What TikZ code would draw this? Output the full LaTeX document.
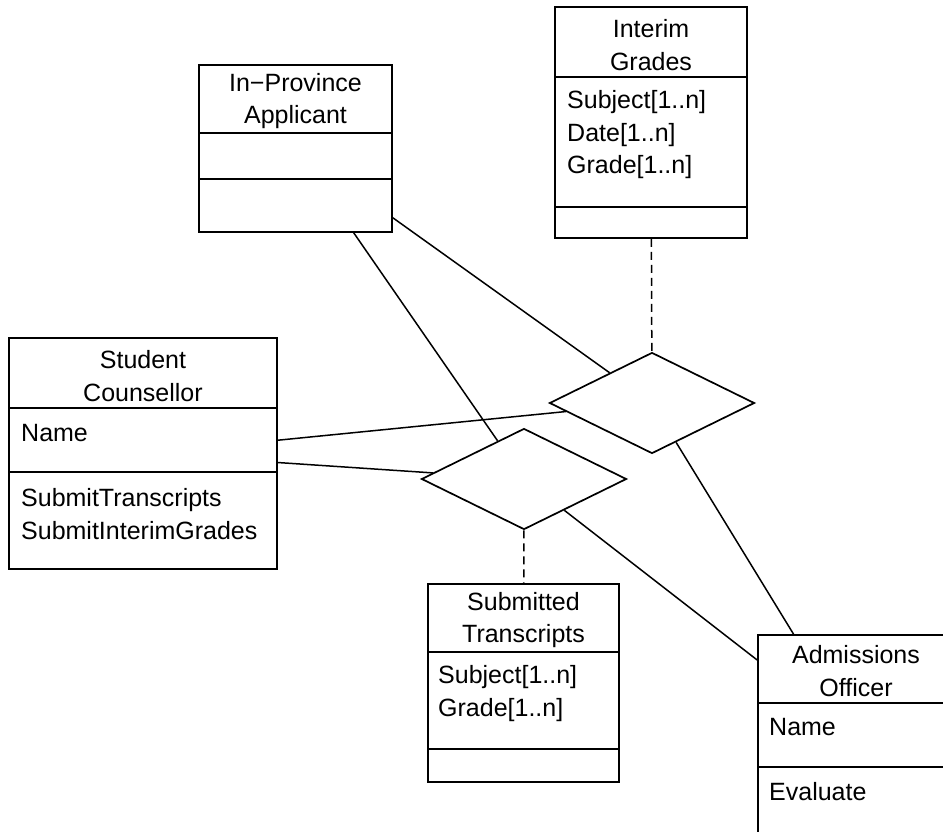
\documentclass[tikz,border=0pt]{standalone}
\usepackage{fontspec}
\setmainfont{Liberation Sans}
\usetikzlibrary{shapes.geometric}

\begin{document}
\begin{tikzpicture}[
    x=1pt, y=-1pt,
    font=\fontsize{25}{32.5}\selectfont,
    cls/.style={draw, rectangle, line width=1.7pt, inner sep=0pt},
    rel/.style={draw, diamond, line width=1.7pt, inner sep=0pt, minimum width=205pt, minimum height=101pt},
    title/.style={align=center, inner sep=0pt},
    attrs/.style={align=left, anchor=west, inner sep=0pt},
    link/.style={line width=1.5pt},
    dep/.style={line width=1.5pt, dash pattern=on 8pt off 5pt}
  ]
    \clip (0,0) rectangle (943,831);

    % classes
    \node[cls, minimum width=193pt, minimum height=167pt] (ipa) at (295.5,148.5) {};
    \node[cls, minimum width=192pt, minimum height=231pt] (ig) at (651,122.5) {};
    \node[cls, minimum width=268pt, minimum height=231pt] (sc) at (143,453.5) {};
    \node[cls, minimum width=191pt, minimum height=198pt] (st) at (523.5,683) {};
    \node[cls, minimum width=196pt, minimum height=203pt] (ao) at (856,736.5) {};

    % associations
    \node[rel] (d1) at (652,403) {};
    \node[rel] (d2) at (524,479) {};

    % compartments
    \draw[link] (ipa.west |- 0,133) -- (ipa.east |- 0,133);
    \draw[link] (ipa.west |- 0,179) -- (ipa.east |- 0,179);
    \draw[link] (ig.west |- 0,77) -- (ig.east |- 0,77);
    \draw[link] (ig.west |- 0,207) -- (ig.east |- 0,207);
    \draw[link] (sc.west |- 0,408) -- (sc.east |- 0,408);
    \draw[link] (sc.west |- 0,472) -- (sc.east |- 0,472);
    \draw[link] (st.west |- 0,652) -- (st.east |- 0,652);
    \draw[link] (st.west |- 0,749) -- (st.east |- 0,749);
    \draw[link] (ao.west |- 0,703) -- (ao.east |- 0,703);
    \draw[link] (ao.west |- 0,767) -- (ao.east |- 0,767);

    % names
    \node[title] (ipaname) at (295.5,101) {In\textminus Province\\Applicant};
    \node[title] (igname) at (651,45) {Interim\\Grades};
    \node[title] (scname) at (143,376) {Student\\Counsellor};
    \node[title] (stname) at (523.5,620) {Submitted\\Transcripts};
    \node[title] (aoname) at (856,671) {Admissions\\Officer};

    % attributes and operations
    \node[attrs] (igattr) at (567,135) {Subject[1..n]\\Date[1..n]\\Grade[1..n]};
    \node[attrs] (scattr) at (21,433) {Name};
    \node[attrs] (scops) at (21,514) {SubmitTranscripts\\SubmitInterimGrades};
    \node[attrs] (stattr) at (438,693.5) {Subject[1..n]\\Grade[1..n]};
    \node[attrs] (aoattr) at (769,727) {Name};
    \node[attrs] (aoops) at (769,792) {Evaluate};

    \draw[link] (ipa) -- (d1);
    \draw[link] (ipa) -- (d2);
    \draw[link] (sc) -- (d1);
    \draw[link] (sc) -- (d2);
    \draw[link] (d1) -- (ao);
    \draw[link] (d2) -- (ao);
    \draw[dep] (ig) -- (d1);
    \draw[dep] (d2) -- (st);
  \end{tikzpicture}
\end{document}
